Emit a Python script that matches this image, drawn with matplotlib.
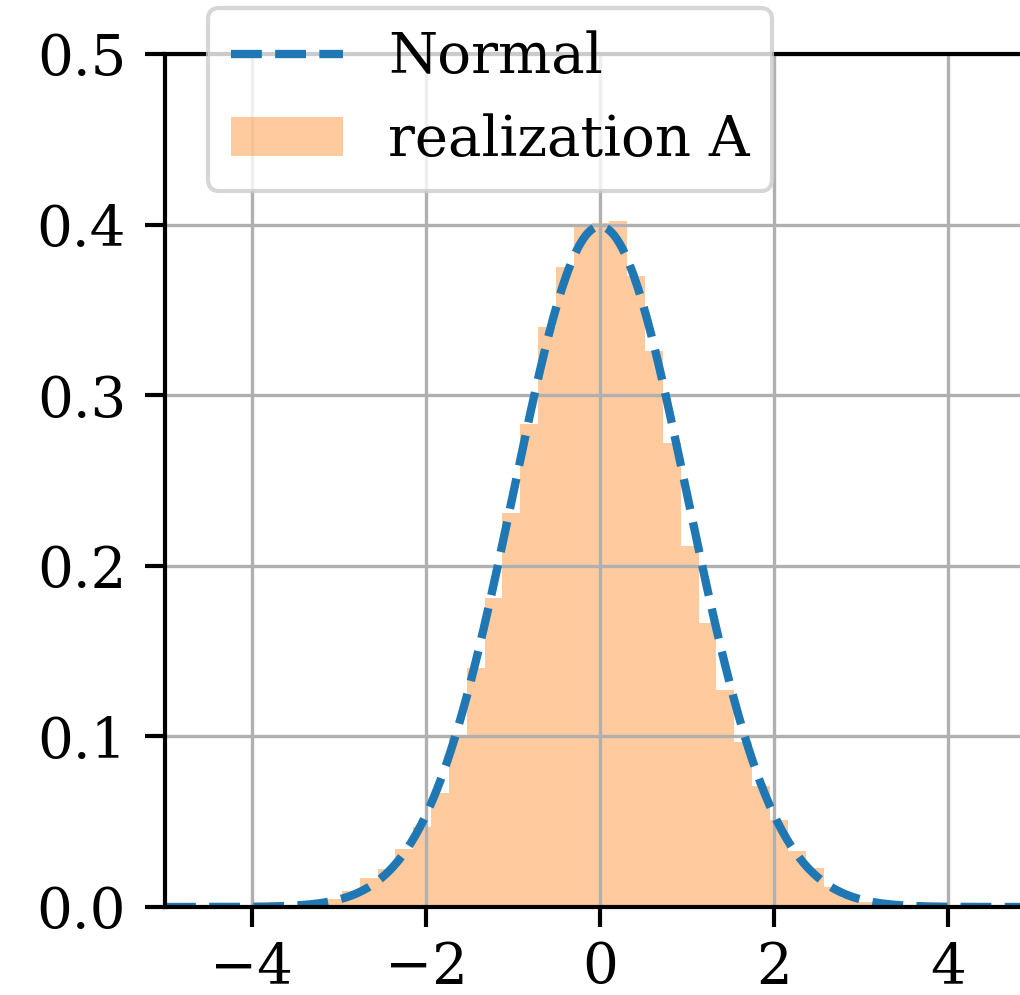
import numpy as np
import matplotlib
matplotlib.use("Agg")
import matplotlib.pyplot as plt

# Histogram of realization A (density per bin), bins of equal width
bin_start = -3.581
bin_width = 0.205
densities = [0.001, 0.002, 0.0045, 0.0096, 0.0169, 0.022, 0.034, 0.047,
             0.0666, 0.100, 0.140, 0.181, 0.231, 0.283, 0.340, 0.375,
             0.399, 0.401, 0.402, 0.370, 0.326, 0.272, 0.2115, 0.1667,
             0.127, 0.0968, 0.071, 0.051, 0.033, 0.0226, 0.0115, 0.005,
             0.003, 0.002]

# Reference normal distribution
normal_mean = 0.0
normal_std = 1.0

x_ticks = [-4, -2, 0, 2, 4]
y_ticks = [0.0, 0.1, 0.2, 0.3, 0.4, 0.5]
y_ticklabels = ["0.0", "0.1", "0.2", "0.3", "0.4", "0.5"]

plt.rcParams["font.family"] = ["DejaVu Serif"]
plt.rcParams["font.size"] = 13.5

W, H, DPI = 1020, 995, 300
fig = plt.figure(figsize=(W / DPI, H / DPI), dpi=DPI)
ax = fig.add_axes([165 / W, 1 - 907 / H, 870 / W, (907 - 54) / H])

lefts = bin_start + bin_width * np.arange(len(densities))
ax.bar(lefts, densities, width=bin_width, align="edge", color="tab:orange",
       alpha=0.4, linewidth=0, label="realization A")

xs = np.linspace(-5, 5, 400)
pdf = np.exp(-0.5 * ((xs - normal_mean) / normal_std) ** 2) / (normal_std * np.sqrt(2 * np.pi))
ax.plot(xs, pdf, "--", color="tab:blue", lw=2, label="Normal")

ax.set_xlim(-5, 5)
ax.set_ylim(0, 0.5)
ax.set_xticks(x_ticks)
ax.set_yticks(y_ticks)
ax.set_yticklabels(y_ticklabels)
ax.grid(True, color="#b0b0b0", lw=0.8)
ax.tick_params(axis="x", length=4.8, width=1, pad=3.2)
ax.tick_params(axis="y", length=4.8, width=1, pad=4.5)
for s in ax.spines.values():
    s.set_linewidth(1.0)

handles, labels = ax.get_legend_handles_labels()
order = [labels.index("Normal"), labels.index("realization A")]
fig.legend([handles[i] for i in order], [labels[i] for i in order],
           loc="upper left", bbox_to_anchor=(208 / W, 1 - 8 / H),
           bbox_transform=fig.transFigure, borderaxespad=0)

fig.savefig("out.png", dpi=DPI)
